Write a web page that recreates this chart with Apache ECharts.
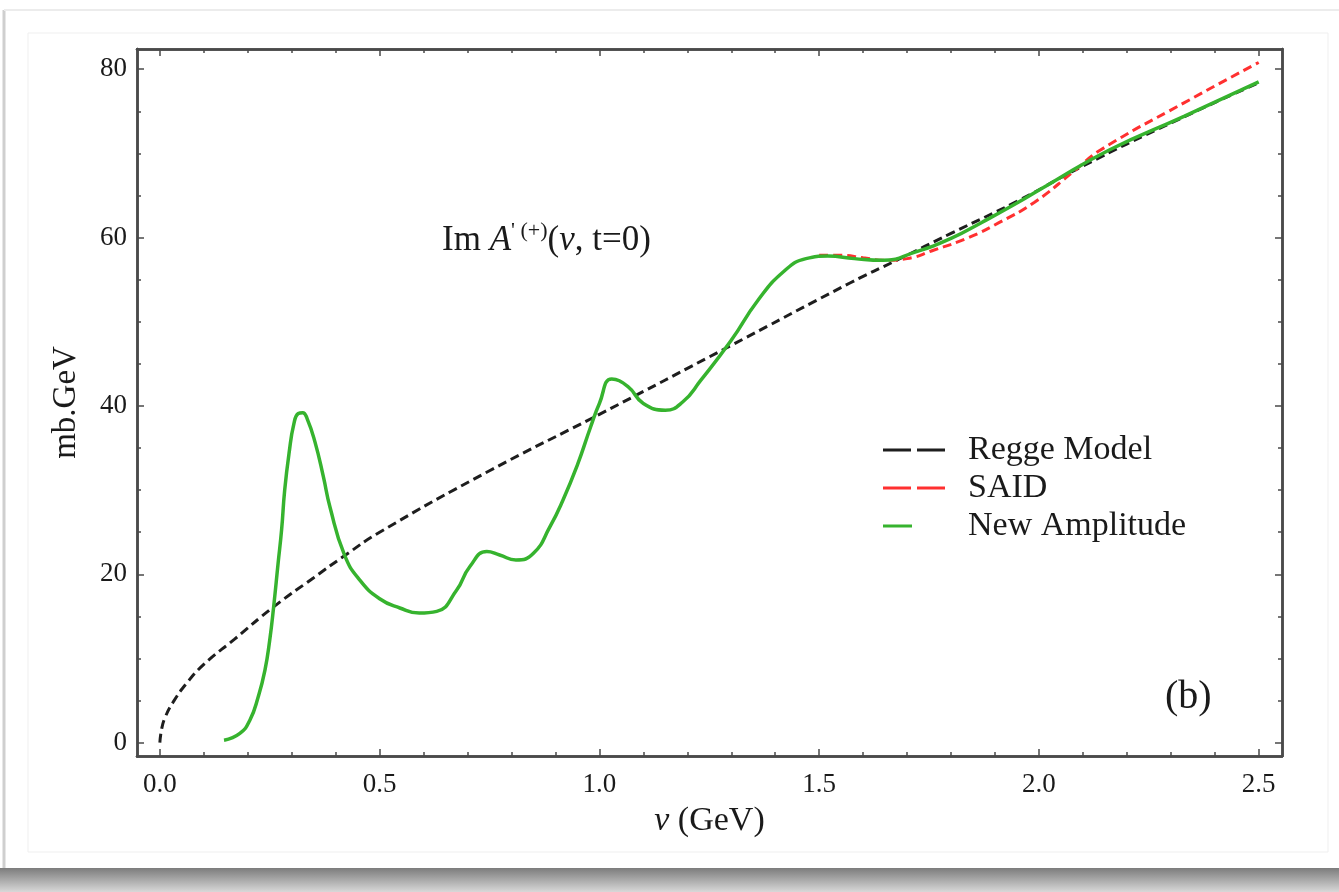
<!DOCTYPE html>
<html>
<head>
<meta charset="utf-8">
<script src="https://cdn.jsdelivr.net/npm/echarts@6/dist/echarts.min.js"></script>
<style>
html, body { margin: 0; padding: 0; background: #fff; }
#chart { width: 1339px; height: 892px; }
</style>
</head>
<body>
<div id="chart"></div>
<script>
// tick labels
const xTickLabels = [0, 0.5, 1.0, 1.5, 2.0, 2.5];
const yTickLabels = [0, 20, 40, 60, 80];

// Regge model (black dashed)
const reggeNu = [0, 0.004, 0.012, 0.03, 0.06, 0.1, 0.17, 0.258, 0.35, 0.42, 0.5, 0.75, 1.0, 1.3, 1.57, 1.68, 1.8, 1.95, 2.1, 2.3, 2.5];
const reggeIm = [0, 1.6, 3.0, 4.8, 7.0, 9.3, 12.3, 16.1, 19.6, 22.2, 25.0, 32.3, 39.0, 47.2, 54.6, 57.4, 60.5, 64.3, 68.5, 73.6, 78.4];

// SAID (red dashed)
const saidNu = [1.5, 1.55, 1.6, 1.65, 1.7, 1.76, 1.84, 1.91, 1.99, 2.08, 2.14, 2.33, 2.5];
const saidIm = [57.9, 57.9, 57.6, 57.3, 57.5, 58.5, 60.0, 61.8, 64.2, 67.9, 70.4, 76.0, 80.8];

// New amplitude (green)
const newNu = [0.146, 0.182, 0.205, 0.224, 0.239, 0.25, 0.259, 0.269, 0.277, 0.284, 0.294, 0.305, 0.315, 0.325, 0.335, 0.353, 0.372, 0.387, 0.42, 0.455, 0.5, 0.546, 0.59, 0.63, 0.675, 0.705, 0.744, 0.773, 0.81, 0.85, 0.887, 0.917, 0.95, 0.98, 1.0, 1.028, 1.065, 1.1, 1.15, 1.19, 1.23, 1.3, 1.36, 1.42, 1.47, 1.52, 1.58, 1.645, 1.72, 1.8, 1.87, 1.95, 2.025, 2.16, 2.33, 2.5];
const newIm = [0.3, 1.1, 2.7, 5.5, 8.6, 12.2, 16.2, 21.3, 25.3, 30.0, 34.4, 37.9, 39.1, 39.2, 38.5, 35.7, 31.6, 28.0, 22.3, 19.3, 17.1, 16.0, 15.4, 15.6, 18.1, 20.9, 22.7, 22.3, 21.7, 22.5, 25.6, 28.8, 33.0, 37.5, 40.3, 43.2, 42.3, 40.3, 39.5, 40.5, 43.0, 47.8, 52.5, 56.0, 57.5, 57.8, 57.5, 57.3, 58.3, 59.9, 61.8, 64.1, 66.4, 70.4, 74.4, 78.5];

const X_MIN = -0.052, X_MAX = 2.553;
const Y_MIN = -1.58, Y_MAX = 82.4;
const FONT = 'Liberation Serif';
const INK = '#1a1a1a';
const frame = {color: '#4a4a4a', width: 2.5};

let xMinor = [], yMinor = [];
for (let i = 0; i <= 25; i++) xMinor.push(+(i / 10).toFixed(1));
for (let v = 0; v <= 80; v += 5) yMinor.push(v);

function zip(a, b) {
  return a.map((v, i) => [v, b[i]]);
}

function axis(kind, pos, ticks, len, extra) {
  let ax = {
    type: 'value',
    position: pos,
    min: kind === 'x' ? X_MIN : Y_MIN,
    max: kind === 'x' ? X_MAX : Y_MAX,
    axisLine: {show: true, onZero: false, lineStyle: frame},
    axisTick: {show: true, inside: true, length: len, customValues: ticks, lineStyle: {color: '#4a4a4a', width: 1.5}},
    axisLabel: {show: false},
    splitLine: {show: false}
  };
  return Object.assign(ax, extra || {});
}

// legend icons: two long dashes, or a single short one
const twoDash = 'path://M0,0h28v3h-28z M34,0h28v3h-28z';
const oneDash = 'path://M0,0h29v3h-29z M61.9,0h0.1v0.1h-0.1z';

let chart = echarts.init(document.getElementById('chart'));
chart.setOption({
  backgroundColor: '#fff',
  animation: false,
  grid: {left: 137, top: 49, right: 57, bottom: 136},
  graphic: [
    {type: 'rect', shape: {x: 0, y: 868, width: 1339, height: 24},
      style: {fill: new echarts.graphic.LinearGradient(0, 0, 0, 1, [
        {offset: 0, color: '#7c7c7c'}, {offset: 1, color: '#d8d8d8'}])}, silent: true},
    {type: 'line', shape: {x1: 4, y1: 10, x2: 4, y2: 868}, style: {stroke: '#cfcfcf', lineWidth: 3}, silent: true},
    {type: 'line', shape: {x1: 4, y1: 10, x2: 1339, y2: 10}, style: {stroke: '#ececec', lineWidth: 2}, silent: true},
    {type: 'rect', shape: {x: 28, y: 33, width: 1300, height: 819}, style: {fill: null, stroke: '#efefef', lineWidth: 1}, silent: true}
  ],
  title: [
    {
      text: "{r|Im }{i|A}{s|' (+)}{r|(}{i|ν}{r|, t=0)}",
      left: 442, top: 220, padding: 0,
      textStyle: {
        fontWeight: 'normal',
        rich: {
          r: {fontFamily: FONT, fontSize: 35, fontWeight: 'normal', color: INK, lineHeight: 42},
          i: {fontFamily: FONT, fontSize: 35, fontWeight: 'normal', fontStyle: 'italic', color: INK, lineHeight: 42},
          s: {fontFamily: FONT, fontSize: 22, fontWeight: 'normal', color: INK, verticalAlign: 'top', lineHeight: 22}
        }
      }
    },
    {
      text: '(b)', left: 1160, top: 672,
      textStyle: {fontFamily: FONT, fontSize: 40, fontWeight: 'normal', color: INK}
    }
  ],
  legend: {
    orient: 'vertical',
    left: 878, top: 428,
    itemWidth: 62, itemHeight: 3, itemGap: 4,
    textStyle: {fontFamily: FONT, fontSize: 34, color: INK, lineHeight: 34, padding: [0, 0, 0, 18]},
    data: [
      {name: 'Regge Model', icon: twoDash},
      {name: 'SAID', icon: twoDash},
      {name: 'New Amplitude', icon: oneDash}
    ]
  },
  xAxis: [
    axis('x', 'bottom', xTickLabels, 7, {
      axisLabel: {show: true, customValues: xTickLabels, formatter: v => v.toFixed(1), margin: 15,
        fontFamily: FONT, fontSize: 27, color: INK},
      name: '{i|ν} (GeV)', nameLocation: 'middle', nameGap: 48,
      nameTextStyle: {fontFamily: FONT, fontSize: 34, color: INK,
        rich: {i: {fontFamily: FONT, fontSize: 34, fontStyle: 'italic', color: INK}}}
    }),
    axis('x', 'bottom', xMinor, 4),
    axis('x', 'top', xTickLabels, 7),
    axis('x', 'top', xMinor, 4)
  ],
  yAxis: [
    axis('y', 'left', yTickLabels, 7, {
      axisLabel: {show: true, customValues: yTickLabels, margin: 10,
        fontFamily: FONT, fontSize: 27, color: INK},
      name: 'mb.GeV', nameLocation: 'middle', nameGap: 54,
      nameTextStyle: {fontFamily: FONT, fontSize: 33, color: INK}
    }),
    axis('y', 'left', yMinor, 4),
    axis('y', 'right', yTickLabels, 7),
    axis('y', 'right', yMinor, 4)
  ],
  series: [
    {
      name: 'Regge Model', type: 'line', smooth: true, symbol: 'none',
      data: zip(reggeNu, reggeIm),
      lineStyle: {color: '#1e1e1e', width: 3, type: [9, 5]},
      itemStyle: {color: '#1e1e1e'}
    },
    {
      name: 'SAID', type: 'line', smooth: true, symbol: 'none',
      data: zip(saidNu, saidIm),
      lineStyle: {color: '#ff3030', width: 3, type: [9, 5]},
      itemStyle: {color: '#ff3030'}
    },
    {
      name: 'New Amplitude', type: 'line', smooth: true, symbol: 'none',
      data: zip(newNu, newIm),
      lineStyle: {color: '#36b32e', width: 3.5},
      itemStyle: {color: '#36b32e'}
    }
  ]
});
</script>
</body>
</html>
